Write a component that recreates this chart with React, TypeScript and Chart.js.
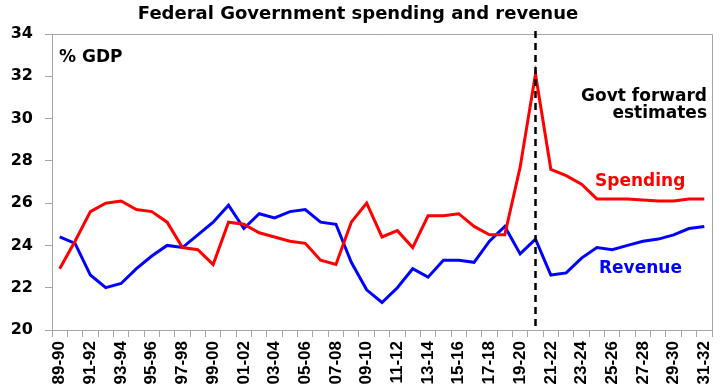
import { useEffect, useRef } from 'react';
import { Chart, registerables } from 'chart.js';

Chart.register(...registerables);

const categories = [
  '89-90', '90-91', '91-92', '92-93', '93-94', '94-95', '95-96', '96-97', '97-98', '98-99',
  '99-00', '00-01', '01-02', '02-03', '03-04', '04-05', '05-06', '06-07', '07-08', '08-09',
  '09-10', '10-11', '11-12', '12-13', '13-14', '14-15', '15-16', '16-17', '17-18', '18-19',
  '19-20', '20-21', '21-22', '22-23', '23-24', '24-25', '25-26', '26-27', '27-28', '28-29',
  '29-30', '30-31', '31-32',
];

const spending = [
  22.9, 24.2, 25.6, 26.0, 26.1, 25.7, 25.6, 25.1, 23.9, 23.8,
  23.1, 25.1, 25.0, 24.6, 24.4, 24.2, 24.1, 23.3, 23.1, 25.1,
  26.0, 24.4, 24.7, 23.9, 25.4, 25.4, 25.5, 24.9, 24.5, 24.5,
  27.7, 32.1, 27.6, 27.3, 26.9, 26.2, 26.2, 26.2, 26.15, 26.1,
  26.1, 26.2, 26.2,
];

const revenue = [
  24.4, 24.1, 22.6, 22.0, 22.2, 22.9, 23.5, 24.0, 23.9, 24.5,
  25.1, 25.9, 24.8, 25.5, 25.3, 25.6, 25.7, 25.1, 25.0, 23.2,
  21.9, 21.3, 22.0, 22.9, 22.5, 23.3, 23.3, 23.2, 24.2, 24.9,
  23.6, 24.3, 22.6, 22.7, 23.4, 23.9, 23.8, 24.0, 24.2, 24.3,
  24.5, 24.8, 24.9,
];

const forecastStart = '20-21';
const yMin = 20;
const yMax = 34;
const yStep = 2;

const title = 'Federal Government spending and revenue';
const unitLabel = '% GDP';
const forwardLabel = ['Govt forward', 'estimates'];
const spendingLabel = 'Spending';
const revenueLabel = 'Revenue';

const AXIS_GREY = '#a6a6a6';
const WIDE_FONT = '"DejaVu Sans", sans-serif';
const TICK_FONT = '"Liberation Sans", Arial, sans-serif';

const overlayPlugin = {
  id: 'overlay',
  afterDraw(chart: any) {
    const { ctx, chartArea } = chart;
    const { left, right, top, bottom } = chartArea;
    ctx.save();

    // box border (top and right)
    ctx.strokeStyle = AXIS_GREY;
    ctx.lineWidth = 1;
    ctx.beginPath();
    ctx.moveTo(left, top + 0.5);
    ctx.lineTo(right + 0.5, top + 0.5);
    ctx.lineTo(right + 0.5, bottom);
    ctx.stroke();

    // dashed forecast divider
    const xs = chart.scales.x;
    const dx = Math.round(xs.getPixelForValue(categories.indexOf(forecastStart))) + 0.5;
    ctx.strokeStyle = '#000';
    ctx.lineWidth = 2.5;
    ctx.setLineDash([7, 5]);
    ctx.beginPath();
    ctx.moveTo(dx, top - 3);
    ctx.lineTo(dx, bottom);
    ctx.stroke();
    ctx.setLineDash([]);

    // title
    ctx.fillStyle = '#000';
    ctx.font = `bold 18px ${WIDE_FONT}`;
    ctx.textAlign = 'center';
    ctx.textBaseline = 'alphabetic';
    ctx.fillText(title, 358, 19);

    // annotations
    ctx.font = `bold 17px ${WIDE_FONT}`;
    ctx.textAlign = 'left';
    ctx.fillText(unitLabel, 59, 62);

    ctx.textAlign = 'right';
    ctx.fillText(forwardLabel[0], 707, 101);
    ctx.fillText(forwardLabel[1], 707, 118);

    ctx.textAlign = 'left';
    ctx.fillStyle = '#ff0000';
    ctx.fillText(spendingLabel, 595, 186);
    ctx.fillStyle = '#0000ff';
    ctx.fillText(revenueLabel, 599, 273);

    ctx.restore();
  },
};

export default function App() {
  const canvasRef = useRef<HTMLCanvasElement | null>(null);

  useEffect(() => {
    const canvas = canvasRef.current;
    if (!canvas) return;
    const chart = new Chart(canvas, {
      type: 'line',
      data: {
        labels: categories,
        datasets: [
          {
            label: 'Spending',
            data: spending,
            borderColor: '#ff0000',
            backgroundColor: '#ff0000',
            borderWidth: 3,
            pointRadius: 0,
            tension: 0,
          },
          {
            label: 'Revenue',
            data: revenue,
            borderColor: '#0000ff',
            backgroundColor: '#0000ff',
            borderWidth: 3,
            pointRadius: 0,
            tension: 0,
          },
        ],
      },
      options: {
        responsive: false,
        animation: false,
        devicePixelRatio: 1,
        layout: { padding: { top: 34, right: 8, left: 0, bottom: 0 } },
        plugins: {
          legend: { display: false },
          title: { display: false },
          tooltip: { enabled: false },
        },
        scales: {
          x: {
            type: 'category',
            offset: true,
            grid: {
              offset: true,
              drawOnChartArea: false,
              drawTicks: true,
              tickLength: 7,
              color: AXIS_GREY,
            },
            border: { color: AXIS_GREY },
            ticks: {
              autoSkip: false,
              maxRotation: 90,
              minRotation: 90,
              padding: 4,
              color: '#000',
              font: { family: TICK_FONT, weight: 'bold', size: 17 },
              callback: (_v: any, i: number) => (i % 2 === 0 ? categories[i] : ''),
            },
            afterFit: (s: any) => {
              s.height = 62;
              s.paddingLeft = 0;
              s.paddingRight = 0;
            },
          },
          y: {
            min: yMin,
            max: yMax,
            grid: {
              drawOnChartArea: false,
              drawTicks: true,
              tickLength: 7,
              color: AXIS_GREY,
            },
            border: { color: AXIS_GREY },
            ticks: {
              stepSize: yStep,
              padding: 12,
              color: '#000',
              font: { family: WIDE_FONT, weight: 'bold', size: 16 },
            },
            afterFit: (s: any) => {
              s.width = 52;
              s.paddingTop = 0;
              s.paddingBottom = 0;
            },
          },
        },
      },
      plugins: [overlayPlugin],
    });
    return () => chart.destroy();
  }, []);

  return (
    <div style={{ position: 'absolute', left: 0, top: 0, width: 720, height: 392, background: '#fff' }}>
      <canvas ref={canvasRef} width={720} height={392} />
    </div>
  );
}
